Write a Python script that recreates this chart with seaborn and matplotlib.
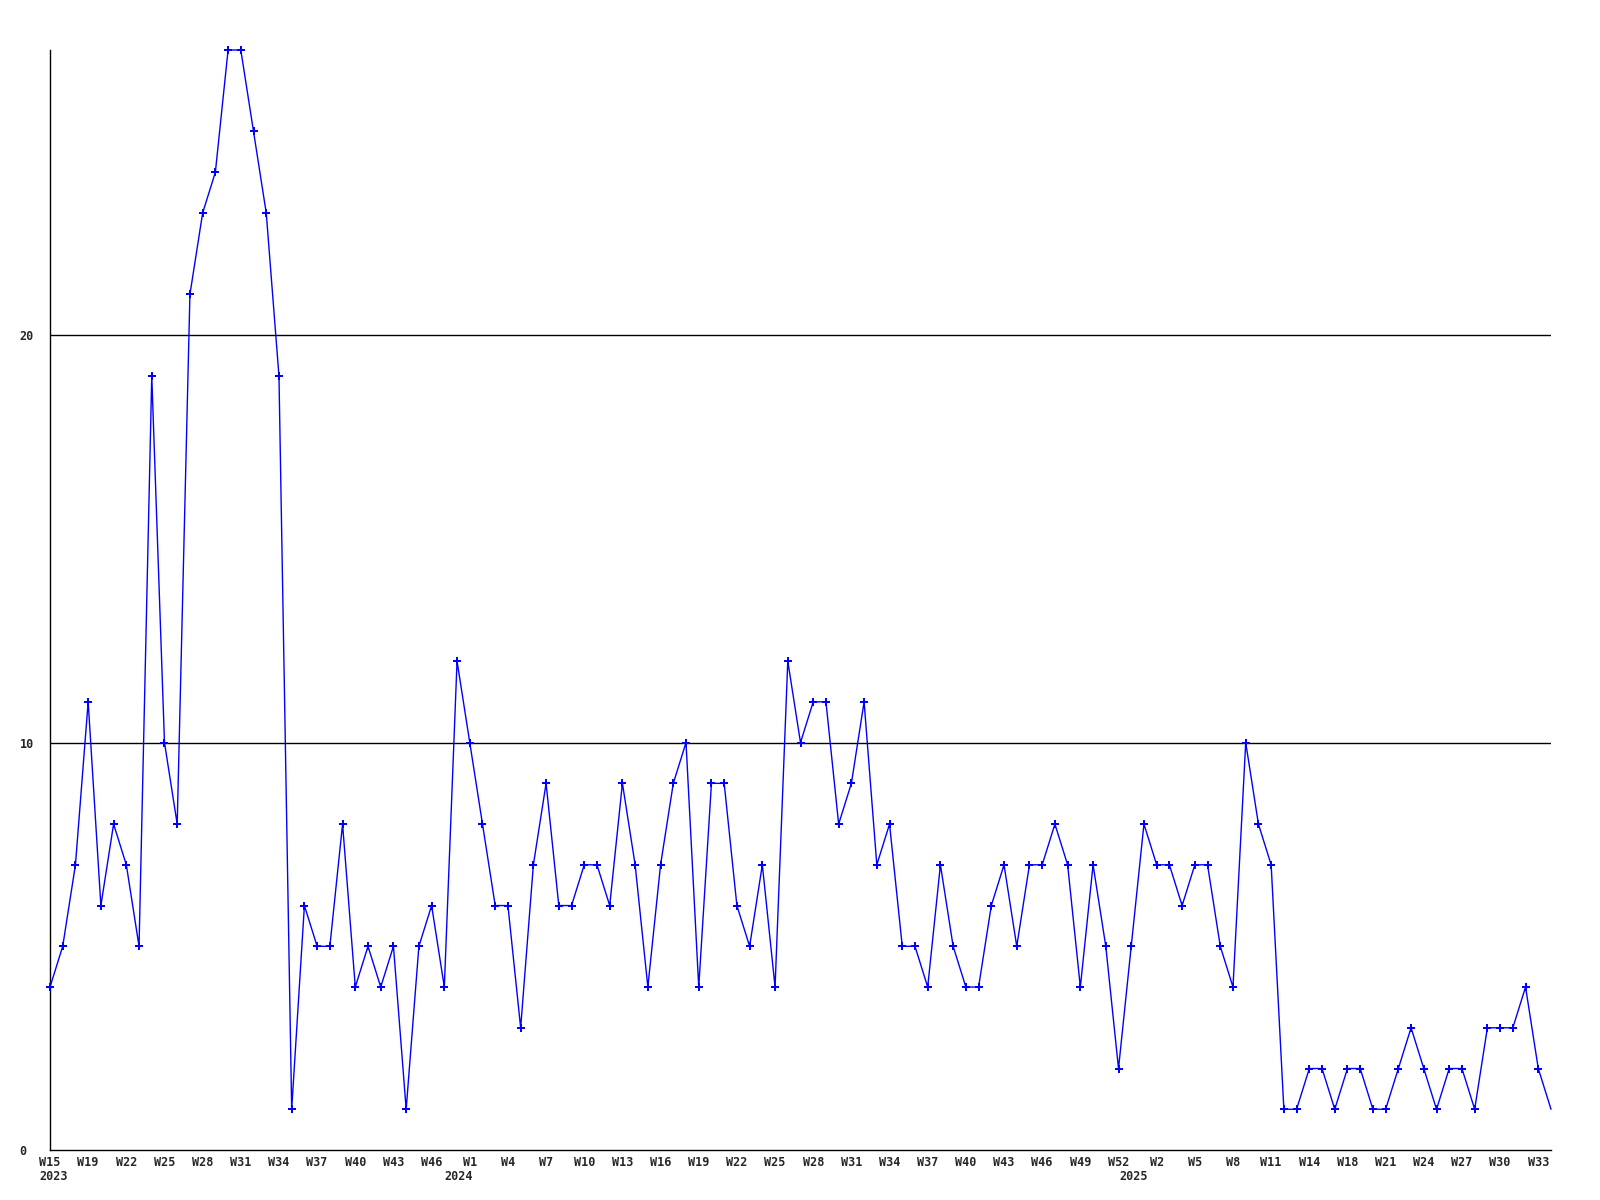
import numpy as np
import pandas as pd
import matplotlib
matplotlib.use('Agg')
import matplotlib.pyplot as plt
import seaborn as sns

# weekly counts, 2023 W15 .. 2025 W34
counts = [4, 5, 7, 11, 6, 8, 7, 5, 19, 10,
          8, 21, 23, 24, 27, 27, 25, 23, 19, 1,
          6, 5, 5, 8, 4, 5, 4, 5, 1, 5,
          6, 4, 12, 10, 8, 6, 6, 3, 7, 9,
          6, 6, 7, 7, 6, 9, 7, 4, 7, 9,
          10, 4, 9, 9, 6, 5, 7, 4, 12, 10,
          11, 11, 8, 9, 11, 7, 8, 5, 5, 4,
          7, 5, 4, 4, 6, 7, 5, 7, 7, 8,
          7, 4, 7, 5, 2, 5, 8, 7, 7, 6,
          7, 7, 5, 4, 10, 8, 7, 1, 1, 2,
          2, 1, 2, 2, 1, 1, 2, 3, 2, 1,
          2, 2, 1, 3, 3, 3, 4, 2, 1]

# every 3rd point gets a label
week_labels = ['W15', 'W19', 'W22', 'W25', 'W28', 'W31', 'W34', 'W37', 'W40', 'W43',
               'W46', 'W1', 'W4', 'W7', 'W10', 'W13', 'W16', 'W19', 'W22', 'W25',
               'W28', 'W31', 'W34', 'W37', 'W40', 'W43', 'W46', 'W49', 'W52', 'W2',
               'W5', 'W8', 'W11', 'W14', 'W18', 'W21', 'W24', 'W27', 'W30', 'W33']
years = ['2023', '2024', '2025']
year_start = [0.25, 32.1, 85.2]

y_ticks = [0, 10, 20]

df = pd.DataFrame({'idx': np.arange(len(counts)), 'count': counts})

sns.set_style('white')
plt.rcParams['font.family'] = ['DejaVu Sans Mono']
plt.rcParams['font.weight'] = 'bold'

fig = plt.figure(figsize=(16, 12), dpi=100)
ax = fig.add_axes([50 / 1600, 1 - 1150 / 1200, 1501 / 1600, 1100 / 1200])

ax.grid(False)
for y in y_ticks[1:]:
    ax.axhline(y, color='black', linewidth=1.0, zorder=1)

# last week is still open -> no marker on it
sns.lineplot(data=df, x='idx', y='count', color='#0000ff', linewidth=1.0,
             marker='P', markersize=6, markeredgewidth=0, clip_on=False,
             markevery=list(range(len(counts) - 1)), ax=ax, zorder=3)

ax.set_xlim(0, len(counts) - 1)
ax.set_ylim(0, max(counts))

for side in ['top', 'right']:
    ax.spines[side].set_visible(False)
for side in ['left', 'bottom']:
    ax.spines[side].set_color('black')
    ax.spines[side].set_linewidth(1.0)

ax.set_xticks(np.arange(0, 3 * len(week_labels), 3))
ax.set_xticklabels(week_labels, fontsize=8.5, fontweight='bold')
ax.set_yticks(y_ticks)
ax.set_yticklabels([str(v) for v in y_ticks], fontsize=8.5, fontweight='bold')
for lab in ax.get_yticklabels():
    lab.set_horizontalalignment('left')
ax.tick_params(axis='x', length=0, pad=4)
ax.tick_params(axis='y', length=0, pad=22)
ax.set_xlabel('')
ax.set_ylabel('')

for yr, xpos in zip(years, year_start):
    ax.text(xpos, -27 / 1100, yr, transform=ax.get_xaxis_transform(),
            ha='center', va='center', fontsize=8.5, fontweight='bold')

fig.savefig('out.png', dpi=100)
